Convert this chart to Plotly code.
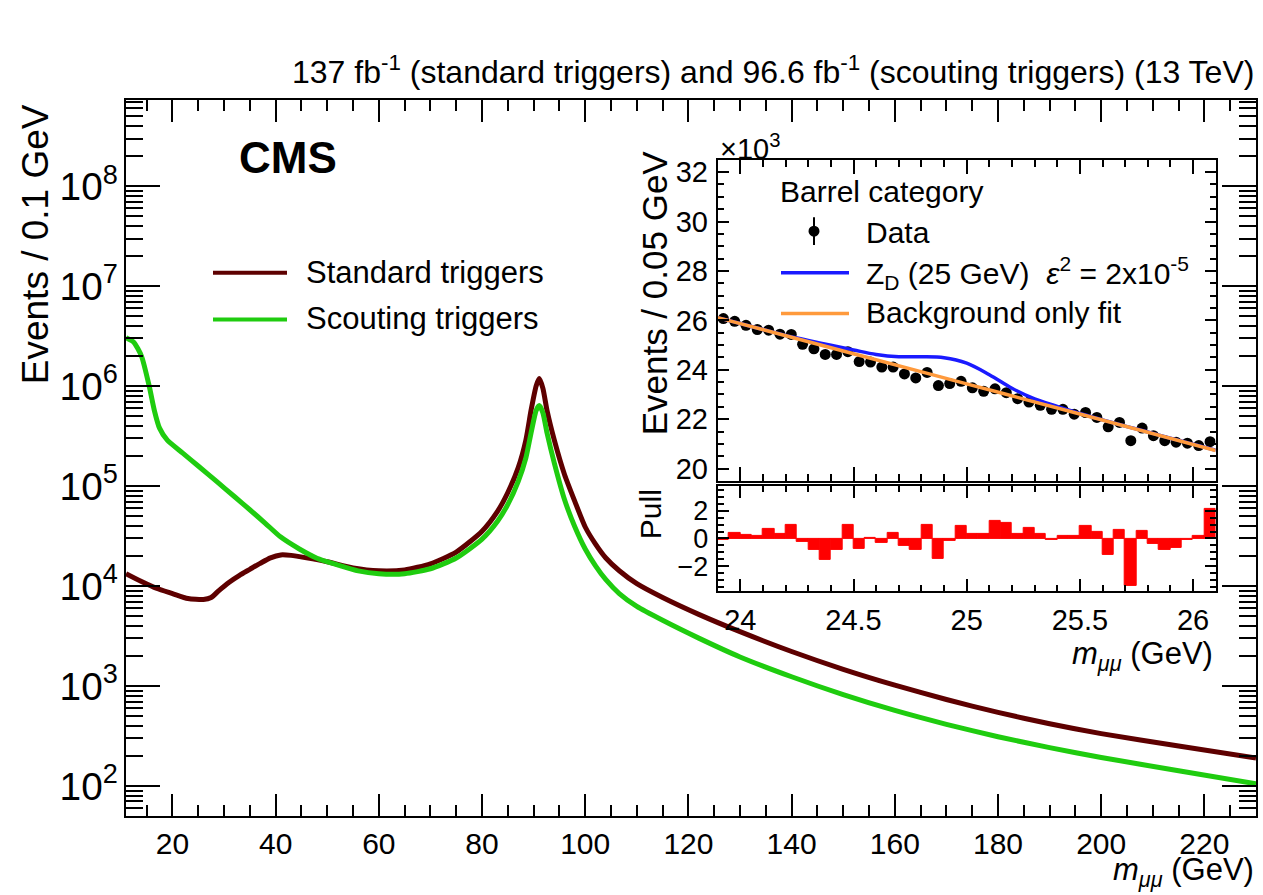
import plotly.graph_objects as go
import math

W, H = 1263, 895
def px(x): return x / W
def py(y): return 1 - y / H

# ---------------- main spectrum ----------------
mass_std = [11, 14, 17, 20, 23, 26, 27.5, 29, 31, 33, 35, 37, 39, 41, 43, 46, 50, 55, 60, 65, 70, 75,
            80, 83, 85, 87, 88.5, 89.5, 90.5, 91.1, 91.8, 92.6, 94, 96, 98, 100, 102, 104, 106.6, 110, 115,
            122, 130, 140, 150, 160, 170, 180, 190, 200, 215, 230]
events_std = [13300, 11100, 9450, 8420, 7510, 7340, 7680, 9020, 10940, 12830, 14720, 16880, 19140, 20500,
              20280, 19140, 17500, 15200, 14200, 14500, 16700, 21900, 35400, 55900, 86300, 1.52e5, 2.89e5,
              5.73e5, 1.01e6, 1.19e6, 9.5e5, 5.7e5, 2.9e5, 1.3e5, 7.0e4, 3.9e4, 2.63e4, 1.91e4, 1.423e4,
              1.057e4, 7685, 5212, 3498, 2215, 1470, 1020, 733, 545, 419, 334, 251, 191]

mass_sct = [11, 12.5, 14, 15.5, 16.5, 17.5, 19, 22, 25, 28.5, 32, 35, 38, 41, 44.6, 48, 52, 56, 60, 65, 70,
            75, 80, 83, 85, 87, 88.5, 89.5, 90.5, 91.1, 91.8, 92.6, 94, 96, 98, 100, 102, 104, 106.6, 110,
            115, 122, 130, 140, 150, 160, 170, 180, 190, 200, 215, 230]
events_sct = [3.05e6, 2.75e6, 2.0e6, 1.0e6, 5.7e5, 3.8e5, 2.88e5, 2.14e5, 1.59e5, 1.12e5, 7.87e4, 5.8e4,
              4.25e4, 3.09e4, 2.35e4, 1.9e4, 1.63e4, 1.42e4, 1.33e4, 1.33e4, 1.49e4, 1.91e4, 2.95e4,
              4.45e4, 6.56e4, 1.11e5, 1.92e5, 3.4e5, 5.73e5, 6.4e5, 5.4e5, 3.4e5, 1.71e5, 7.3e4, 3.9e4,
              2.35e4, 1.594e4, 1.158e4, 8415, 6256, 4546, 3015, 1954, 1238, 821, 570, 414, 311, 242, 193,
              142, 105]

# ---------------- inset (x10^3 events / 0.05 GeV) ----------------
inset_mass = [23.925, 23.975, 24.025, 24.075, 24.125, 24.175, 24.225, 24.275, 24.325, 24.375, 24.425,
              24.475, 24.525, 24.575, 24.625, 24.675, 24.725, 24.775, 24.825, 24.875, 24.925, 24.975,
              25.025, 25.075, 25.125, 25.175, 25.225, 25.275, 25.325, 25.375, 25.425, 25.475, 25.525,
              25.575, 25.625, 25.675, 25.725, 25.775, 25.825, 25.875, 25.925, 25.975, 26.025, 26.075]
inset_data = [26.07, 25.96, 25.80, 25.63, 25.60, 25.44, 25.43, 25.03, 24.85, 24.62, 24.62, 24.73, 24.33,
              24.31, 24.11, 24.11, 23.83, 23.67, 23.89, 23.36, 23.44, 23.53, 23.27, 23.13, 23.23, 23.07,
              22.83, 22.69, 22.56, 22.40, 22.40, 22.20, 22.27, 22.07, 21.69, 21.87, 21.13, 21.64, 21.33,
              21.13, 21.07, 21.03, 20.93, 21.09]
pull_vals = [-0.1, 0.4, 0.25, 0.2, 0.7, 0.35, 1.0, -0.25, -0.8, -1.55, -0.8, 0.95, -0.75, 0.05, -0.35,
             0.37, -0.55, -0.8, 0.98, -1.45, -0.2, 0.9, 0.35, 0.3, 1.27, 1.1, 0.3, 0.8, 0.3, -0.12, 0.17,
             0.17, 0.93, 0.5, -1.17, 0.65, -3.4, 0.55, -0.4, -0.85, -0.65, -0.07, 0.2, 2.15]
sig_mass = [23.9, 24.0, 24.1, 24.2, 24.3, 24.4, 24.5, 24.6, 24.7, 24.8, 24.9, 25.0, 25.1, 25.2, 25.3,
            25.4, 25.5, 25.6, 25.7, 25.8, 25.9, 26.0, 26.1]
sig_vals = [26.11, 25.87, 25.63, 25.39, 25.19, 24.99, 24.80, 24.62, 24.53, 24.53, 24.49, 24.27, 23.80,
            23.25, 22.82, 22.52, 22.23, 21.97, 21.72, 21.48, 21.23, 20.99, 20.74]
bkg_mass = [23.9, 24.5, 25.0, 25.5, 26.1]
bkg_vals = [26.11, 24.65, 23.43, 22.21, 20.73]

BROWN = "#5e0000"
GREEN = "#1fcc0f"
BLUE = "#1a1aff"
ORANGE = "#ff9a3c"
RED = "#ff0000"
FONT = "Liberation Sans, Arial, Helvetica, sans-serif"

fig = go.Figure()
fig.add_trace(go.Scatter(x=mass_std, y=events_std, mode="lines",
                         line=dict(color=BROWN, width=5, shape="spline", smoothing=0.6),
                         xaxis="x", yaxis="y", showlegend=False))
fig.add_trace(go.Scatter(x=mass_sct, y=events_sct, mode="lines",
                         line=dict(color=GREEN, width=5, shape="spline", smoothing=0.6),
                         xaxis="x", yaxis="y", showlegend=False))

fig.add_trace(go.Scatter(x=inset_mass, y=inset_data, mode="markers",
                         marker=dict(color="black", size=11),
                         error_y=dict(type="constant", value=0.16, color="black", thickness=2, width=0),
                         xaxis="x2", yaxis="y2", showlegend=False))
fig.add_trace(go.Scatter(x=sig_mass, y=sig_vals, mode="lines", line=dict(color=BLUE, width=3.5, shape="spline"),
                         xaxis="x2", yaxis="y2", showlegend=False))
fig.add_trace(go.Scatter(x=bkg_mass, y=bkg_vals, mode="lines", line=dict(color=ORANGE, width=3.5, shape="spline"),
                         xaxis="x2", yaxis="y2", showlegend=False))

fig.add_trace(go.Bar(x=inset_mass, y=pull_vals, width=0.05, marker=dict(color=RED, line=dict(color=RED, width=1)),
                     xaxis="x3", yaxis="y3", showlegend=False))

tickfont_main = dict(family=FONT, size=31, color="black")
tickfont_mainx = dict(family=FONT, size=30, color="black")
tickfont_in = dict(family=FONT, size=29, color="black")
tickfont_pull = dict(family=FONT, size=27, color="black")

common = dict(showline=True, linecolor="black", linewidth=2, mirror="allticks", ticks="inside",
              tickcolor="black", tickwidth=1.5, showgrid=False, zeroline=False)

main_x = [126, 1256]
main_y = [97.7, 819.5]
in_x = [717.7, 1215.7]
in_top = [158, 481.7]
in_pull = [486.7, 592.7]

fig.update_layout(
    width=W, height=H, margin=dict(l=0, r=0, t=0, b=0),
    paper_bgcolor="white", plot_bgcolor="white",
    bargap=0,
    xaxis=dict(domain=[px(main_x[0]), px(main_x[1])], range=[11, 230], anchor="y",
               dtick=20, tick0=0, ticklen=22, tickfont=tickfont_mainx, ticklabelstandoff=0,
               minor=dict(dtick=5, tick0=0, ticks="inside", ticklen=11, tickcolor="black", tickwidth=1.5),
               **common),
    yaxis=dict(domain=[py(main_y[1]), py(main_y[0])], type="log",
               range=[math.log10(50), math.log10(7.3e8)], anchor="x",
               dtick=1, exponentformat="power", ticklen=34, tickfont=tickfont_main, ticklabelstandoff=0,
               minor=dict(dtick="D1", ticks="inside", ticklen=17, tickcolor="black", tickwidth=1.5),
               **common),
    xaxis2=dict(domain=[px(in_x[0]), px(in_x[1])], range=[23.9, 26.1], anchor="y2",
                dtick=0.5, tick0=0, ticklen=14, showticklabels=False,
                minor=dict(dtick=0.1, tick0=0, ticks="inside", ticklen=7, tickcolor="black", tickwidth=1.5),
                **common),
    yaxis2=dict(domain=[py(in_top[1]), py(in_top[0])], range=[19.5, 32.5], anchor="x2",
                dtick=2, tick0=0, ticklen=11, tickfont=tickfont_in, ticklabelstandoff=2,
                minor=dict(dtick=0.5, tick0=0, ticks="inside", ticklen=6, tickcolor="black", tickwidth=1.5),
                **common),
    xaxis3=dict(domain=[px(in_x[0]), px(in_x[1])], range=[23.9, 26.1], anchor="y3",
                dtick=0.5, tick0=0, ticklen=12, tickfont=tickfont_in, ticklabelstandoff=2,
                minor=dict(dtick=0.1, tick0=0, ticks="inside", ticklen=6, tickcolor="black", tickwidth=1.5),
                **common),
    yaxis3=dict(domain=[py(in_pull[1]), py(in_pull[0])], range=[-3.8, 3.8], anchor="x3",
                dtick=2, tick0=0, ticklen=11, tickfont=tickfont_pull, ticklabelstandoff=2,
                minor=dict(dtick=0.5, tick0=0, ticks="inside", ticklen=6, tickcolor="black", tickwidth=1.5),
                **common),
)

ann = []
def text(x, y, s, size, xanchor="left", yanchor="middle", angle=0):
    ann.append(dict(x=px(x), y=py(y), xref="paper", yref="paper", text=s, showarrow=False,
                    xanchor=xanchor, yanchor=yanchor, textangle=angle,
                    font=dict(family=FONT, size=size, color="black")))

text(1256, 68, "137 fb<sup>-1</sup> (standard triggers) and 96.6 fb<sup>-1</sup> (scouting triggers) (13 TeV)",
     32, xanchor="right")
text(35, 100, "Events / 0.1 GeV", 37, xanchor="center", yanchor="top", angle=-90)
text(1256, 876, "<i>m</i><sub><i>μμ</i></sub> (GeV)", 31, xanchor="right")
text(237, 156, "<b>CMS</b>", 44)
text(304, 272, "Standard triggers", 31)
text(304, 318, "Scouting triggers", 31)

# inset texts
text(718, 145, "×10<sup>3</sup>", 29, yanchor="middle")
text(654, 146, "Events / 0.05 GeV", 35, xanchor="center", yanchor="top", angle=-90)
text(650, 488, "Pull", 30, xanchor="center", yanchor="top", angle=-90)
text(1215, 658, "<i>m</i><sub><i>μμ</i></sub> (GeV)", 31, xanchor="right")
text(778, 190, "Barrel category", 30)
text(864, 231, "Data", 30)
text(864, 272, "Z<sub>D</sub> (25 GeV)  <i>ε</i><sup>2</sup> = 2x10<sup>-5</sup>", 30)
text(864, 312, "Background only fit", 30)
fig.update_layout(annotations=ann)

shapes = []
def pline(x0, y0, x1, y1, color, width):
    shapes.append(dict(type="line", xref="paper", yref="paper", x0=px(x0), y0=py(y0), x1=px(x1), y1=py(y1),
                       line=dict(color=color, width=width)))
pline(213, 272, 287, 272, BROWN, 4)
pline(213, 319, 287, 319, GREEN, 4)
pline(781, 272, 849, 272, BLUE, 3.5)
pline(781, 313, 849, 313, ORANGE, 3.5)
pline(814, 216, 814, 244, "black", 2)
shapes.append(dict(type="circle", xref="paper", yref="paper", x0=px(808.5), x1=px(819.5), y0=py(224.5), y1=py(235.5),
                   fillcolor="black", line=dict(color="black", width=0)))
fig.update_layout(shapes=shapes)

fig.write_html("out.html")
